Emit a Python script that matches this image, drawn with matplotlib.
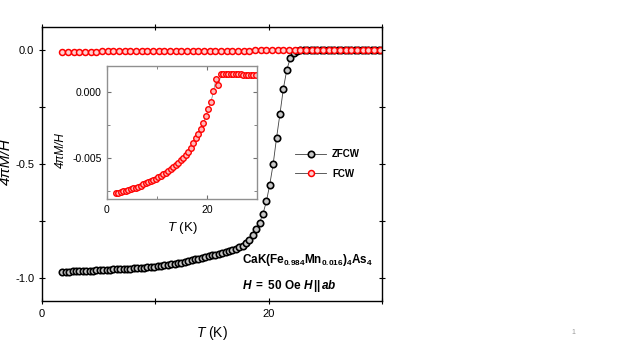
import matplotlib
matplotlib.use('Agg')
import matplotlib.pyplot as plt
from matplotlib.ticker import MultipleLocator

plt.rcParams['font.family'] = ['Liberation Sans', 'DejaVu Sans']
plt.rcParams['mathtext.fontset'] = 'custom'
plt.rcParams['mathtext.rm'] = 'Liberation Sans'
plt.rcParams['mathtext.it'] = 'Liberation Sans:italic'
plt.rcParams['mathtext.bf'] = 'Liberation Sans:bold'
plt.rcParams['mathtext.bfit'] = 'Liberation Sans:italic:bold'

#%% data
# zero-field-cooled warming, T in K, 4piM/H
T_zfcw = [1.8, 2.1, 2.4, 2.7, 3.0, 3.3, 3.6, 3.9, 4.2, 4.5,
          4.8, 5.1, 5.4, 5.7, 6.0, 6.3, 6.6, 6.9, 7.2, 7.5,
          7.8, 8.1, 8.4, 8.7, 9.0, 9.3, 9.6, 9.9, 10.2, 10.5,
          10.8, 11.1, 11.4, 11.7, 12.0, 12.3, 12.6, 12.9, 13.2, 13.5,
          13.8, 14.1, 14.4, 14.7, 15.0, 15.3, 15.6, 15.9, 16.2, 16.5,
          16.8, 17.1, 17.4, 17.7, 18.0, 18.3, 18.6, 18.9, 19.2, 19.5,
          19.8, 20.1, 20.4, 20.7, 21.0, 21.3, 21.6, 21.9, 22.2, 22.5,
          22.8, 23.1, 23.4, 23.7, 24.0, 24.3, 24.6, 24.9, 25.2, 25.5,
          25.8, 26.1, 26.4, 26.7, 27.0, 27.3, 27.6, 27.9, 28.2, 28.5,
          28.8, 29.1, 29.4, 29.7, 30.0]
M_zfcw = [-0.972, -0.971, -0.971, -0.970, -0.970, -0.969, -0.969, -0.968, -0.967, -0.967,
          -0.966, -0.965, -0.965, -0.964, -0.963, -0.962, -0.962, -0.961, -0.960, -0.959,
          -0.958, -0.957, -0.956, -0.955, -0.954, -0.952, -0.951, -0.950, -0.948, -0.946,
          -0.944, -0.942, -0.940, -0.938, -0.935, -0.932, -0.929, -0.926, -0.922, -0.918,
          -0.914, -0.911, -0.908, -0.904, -0.900, -0.897, -0.893, -0.889, -0.885, -0.881,
          -0.876, -0.871, -0.865, -0.857, -0.846, -0.831, -0.810, -0.786, -0.757, -0.718,
          -0.664, -0.590, -0.500, -0.385, -0.280, -0.170, -0.088, -0.038, -0.014, -0.004,
          0.000, 0.001, 0.001, 0.001, 0.001, 0.001, 0.001, 0.001, 0.001, 0.001,
          0.001, 0.001, 0.001, 0.001, 0.001, 0.001, 0.001, 0.001, 0.001, 0.001,
          0.001, 0.001, 0.001, 0.001, 0.001]

# field-cooled warming (also shown enlarged in the inset)
T_fcw = [1.8, 2.3, 2.8, 3.3, 3.8, 4.3, 4.8, 5.3, 5.8, 6.3,
         6.8, 7.3, 7.8, 8.3, 8.8, 9.3, 9.8, 10.3, 10.8, 11.3,
         11.8, 12.3, 12.8, 13.3, 13.8, 14.3, 14.8, 15.3, 15.8, 16.3,
         16.8, 17.3, 17.8, 18.3, 18.8, 19.3, 19.8, 20.3, 20.8, 21.3,
         21.8, 22.3, 22.8, 23.3, 23.8, 24.3, 24.8, 25.3, 25.8, 26.3,
         26.8, 27.3, 27.8, 28.3, 28.8, 29.3, 29.8]
M_fcw = [-0.00764, -0.00761, -0.00757, -0.00753, -0.00748, -0.00743, -0.00737, -0.00730, -0.00723, -0.00716,
         -0.00708, -0.00700, -0.00692, -0.00684, -0.00675, -0.00666, -0.00656, -0.00646, -0.00635, -0.00623,
         -0.00610, -0.00596, -0.00582, -0.00567, -0.00552, -0.00536, -0.00518, -0.00499, -0.00479, -0.00456,
         -0.00424, -0.00388, -0.00350, -0.00316, -0.00278, -0.00233, -0.00180, -0.00129, -0.00076, 0.00005,
         0.00098, 0.00050, 0.00133, 0.00137, 0.00137, 0.00136, 0.00136, 0.00135, 0.00134, 0.00133,
         0.00133, 0.00132, 0.00131, 0.00130, 0.00129, 0.00128, 0.00127]

fig = plt.figure(figsize=(6.23, 3.5), dpi=100)
#%% main panel
ax = fig.add_axes([0.0674, 0.14, 0.5457, 0.7829])
ax.plot(T_zfcw, M_zfcw, '-o', color='#404040', lw=0.6, ms=4.6, mec='black', mfc='#c8c8c8', mew=1.2,
        label='ZFCW')
ax.plot(T_fcw, M_fcw, '-o', color='#404040', lw=0.6, ms=4.3, mec='red', mfc='#ffd0d0', mew=1.1,
        label='FCW')
ax.set_xlim(0, 30)
ax.set_ylim(-1.1, 0.1)
ax.xaxis.set_major_locator(MultipleLocator(20))
ax.xaxis.set_minor_locator(MultipleLocator(10))
ax.yaxis.set_major_locator(MultipleLocator(0.5))
ax.yaxis.set_minor_locator(MultipleLocator(0.25))
ax.yaxis.set_major_formatter(lambda v, p: '%.1f' % v)
ax.tick_params(which='both', direction='inout', top=True, right=True, labelsize=8, pad=3)
ax.tick_params(which='major', length=5, width=0.8)
ax.tick_params(which='minor', length=4, width=0.8)
for s in ax.spines.values():
    s.set_linewidth(1.0)
ax.set_xlabel('$T$ (K)', fontsize=10, labelpad=4)
ax.set_ylabel('4πM/H', fontsize=11, style='italic')
ax.yaxis.set_label_coords(-0.086, 0.51)

leg = ax.legend(loc='upper left', bbox_to_anchor=(0.745, 0.553), frameon=False, prop={'size': 7, 'weight': 'bold'},
                handlelength=3.2, handletextpad=0.6, labelspacing=0.95, borderpad=0, borderaxespad=0)

ax.text(0.587, 0.150, r'CaK$\mathbf{(}$Fe$_{\mathbf{0.984}}$Mn$_{\mathbf{0.016}}$$\mathbf{)}_{\mathbf{4}}$As$_{\mathbf{4}}$',
        transform=ax.transAxes, fontsize=8.5, fontweight='bold', va='center')
ax.text(0.587, 0.056, r'$\mathbfit{H}\mathbf{\ =\ 50\ Oe\ }\mathbfit{H}\,\mathbf{||}\,\mathbfit{ab}$',
        transform=ax.transAxes, fontsize=8.5, va='center')

#%% inset: FCW enlarged
axi = fig.add_axes([0.1717, 0.4314, 0.2408, 0.3814])
axi.plot(T_fcw, M_fcw, '-o', color='#808080', lw=0.5, ms=4.0, mec='red', mfc='#ffb8b8', mew=1.0)
axi.set_xlim(0, 30)
axi.set_ylim(-0.0081, 0.002)
axi.xaxis.set_major_locator(MultipleLocator(20))
axi.xaxis.set_minor_locator(MultipleLocator(10))
axi.yaxis.set_major_locator(MultipleLocator(0.005))
axi.yaxis.set_minor_locator(MultipleLocator(0.0025))
axi.yaxis.set_major_formatter(lambda v, p: '%.3f' % v)
axi.tick_params(which='both', direction='in', top=True, right=True, labelsize=7.5, color='#707070', pad=4)
axi.tick_params(which='major', length=3)
axi.tick_params(which='minor', length=2)
for s in axi.spines.values():
    s.set_color('#909090')
    s.set_linewidth(1.0)
axi.set_xlabel('$T$ (K)', fontsize=9.5, labelpad=4)
axi.set_ylabel('4πM/H', fontsize=8.5, style='italic')
axi.yaxis.set_label_coords(-0.27, 0.37)

fig.text(573 / 623, 1 - 333 / 350, '1', fontsize=5, color='#999999', ha='center', va='center')

fig.savefig('out.png', dpi=100)
